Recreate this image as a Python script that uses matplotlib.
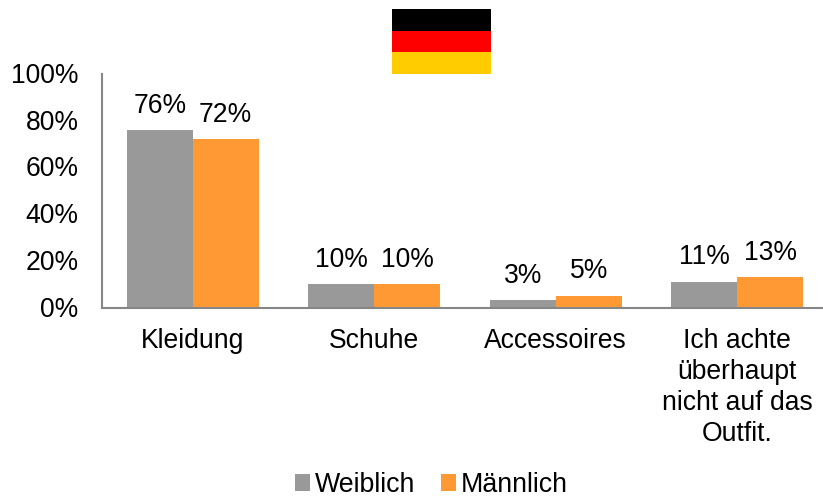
import matplotlib
matplotlib.use('Agg')
import matplotlib.pyplot as plt
from matplotlib.patches import Rectangle
from matplotlib.transforms import ScaledTranslation
import numpy as np

categories = ['Kleidung', 'Schuhe', 'Accessoires', 'Ich achte\nüberhaupt\nnicht auf das\nOutfit.']
weiblich = [76, 10, 3, 11]
maennlich = [72, 10, 5, 13]
y_ticks = [0, 20, 40, 60, 80, 100]
flag_colors = ['#000000', '#ff0000', '#ffcc00']

plt.rcParams['font.family'] = ['Liberation Sans', 'DejaVu Sans']
plt.rcParams['font.size'] = 19.1

W, H = 823, 498
fig = plt.figure(figsize=(W / 100, H / 100), dpi=100)

# axes placed in pixels: x axis runs to the right edge of the image
left, right, top, bottom = 102, 823, 74, 307.5
ax = fig.add_axes([left / W, 1 - bottom / H, (right - left) / W, (bottom - top) / H])

x = np.arange(len(categories))
bar_w = 66 / 181.5
ax.bar(x - bar_w / 2, weiblich, bar_w, color='#999999', label='Weiblich')
ax.bar(x + bar_w / 2, maennlich, bar_w, color='#ff9933', label='Männlich')

# value labels above the bars
for i in range(len(categories)):
    ax.annotate(f'{weiblich[i]}%', (x[i] - bar_w / 2, weiblich[i]), xytext=(0, 8.3),
                textcoords='offset points', ha='center', va='bottom', color='black')
    ax.annotate(f'{maennlich[i]}%', (x[i] + bar_w / 2, maennlich[i]), xytext=(0, 8.3),
                textcoords='offset points', ha='center', va='bottom', color='black')

ax.set_xlim(-0.5, -0.5 + (right - left) / 181.5)
ax.set_ylim(0, 100)
ax.set_yticks(y_ticks)
ax.set_yticklabels([f'{t}%' for t in y_ticks])
ax.set_xticks(x)
ax.set_xticklabels(categories, linespacing=1.26)
ax.tick_params(axis='both', length=0)
ax.tick_params(axis='y', pad=17)
ax.tick_params(axis='x', pad=14.5)

# y labels sit a little higher than centred
for lab in ax.get_yticklabels():
    lab.set_transform(lab.get_transform() + ScaledTranslation(0, 1 / 100, fig.dpi_scale_trans))

for s in ['top', 'right']:
    ax.spines[s].set_visible(False)
for s in ['left', 'bottom']:
    ax.spines[s].set_color('#868686')
    ax.spines[s].set_linewidth(1.5)

# flag
flag_top = 9
stripe = 65 / 3
for i, c in enumerate(flag_colors):
    fig.add_artist(Rectangle((392 / W, 1 - (flag_top + (i + 1) * stripe) / H), 99 / W, stripe / H,
                             transform=fig.transFigure, color=c, lw=0))

fig.legend(loc='lower left', bbox_to_anchor=(287 / W, -8 / H), ncol=2, frameon=False, fontsize=19.3,
           handlelength=0.55, handleheight=0.55, handletextpad=0.2, columnspacing=0.95,
           borderpad=0.3, borderaxespad=0)

fig.savefig('out.png', dpi=100)
